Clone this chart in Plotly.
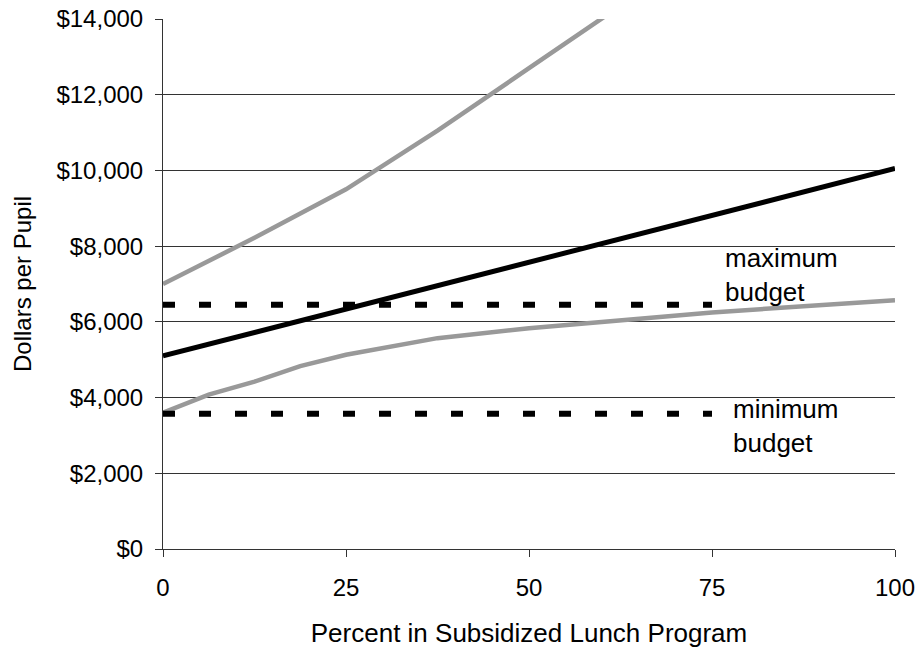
import plotly.graph_objects as go

# percent in subsidized lunch program (x) and dollars per pupil (y)
upper_x = [0, 12.5, 25, 37.5, 50, 62.5]
upper_y = [7000, 8220, 9500, 11050, 12700, 14350]

middle_x = [0, 25, 50, 75, 100]
middle_y = [5100, 6330, 7570, 8810, 10050]

lower_x = [0, 6.25, 12.5, 18.75, 25, 37.5, 50, 62.5, 75, 87.5, 100]
lower_y = [3600, 4080, 4420, 4830, 5130, 5570, 5830, 6040, 6250, 6410, 6570]

budget_x = [0, 75]
max_budget = [6450, 6450]
min_budget = [3570, 3570]

x_ticks = [0, 25, 50, 75, 100]
y_ticks = [0, 2000, 4000, 6000, 8000, 10000, 12000, 14000]
y_labels = ['$' + format(v, ',') for v in y_ticks]

FONT = 'Liberation Sans, Arial, sans-serif'
GRAY = '#999999'

fig = go.Figure()

fig.add_trace(go.Scatter(x=upper_x, y=upper_y, mode='lines',
                         line=dict(color=GRAY, width=4.5)))
fig.add_trace(go.Scatter(x=lower_x, y=lower_y, mode='lines',
                         line=dict(color=GRAY, width=4.5)))
fig.add_trace(go.Scatter(x=middle_x, y=middle_y, mode='lines',
                         line=dict(color='black', width=5)))
fig.add_trace(go.Scatter(x=budget_x, y=max_budget, mode='lines',
                         line=dict(color='black', width=6, dash='12px,24px')))
fig.add_trace(go.Scatter(x=budget_x, y=min_budget, mode='lines',
                         line=dict(color='black', width=6, dash='12px,24px')))

fig.add_annotation(x=76.5, y=7240, text='maximum<br>budget', showarrow=False,
                   xanchor='left', yanchor='middle', align='left',
                   font=dict(size=26, color='black', family=FONT))
fig.add_annotation(x=77.6, y=3240, text='minimum<br>budget', showarrow=False,
                   xanchor='left', yanchor='middle', align='left',
                   font=dict(size=26, color='black', family=FONT))

fig.update_xaxes(
    range=[0, 100], tickvals=x_ticks, ticks='outside', ticklen=7,
    tickcolor='#333', showline=True, linecolor='#333', linewidth=1,
    showgrid=False, zeroline=False, ticklabelstandoff=10,
    title=dict(text='Percent in Subsidized Lunch Program', standoff=25,
               font=dict(size=26, color='black', family=FONT)),
    tickfont=dict(size=24, color='black', family=FONT)
)
fig.update_yaxes(
    range=[0, 14000], tickvals=y_ticks, ticktext=y_labels,
    ticks='outside', ticklen=7, tickcolor='#333', showline=True,
    linecolor='#333', linewidth=1, showgrid=True, gridcolor='#333',
    gridwidth=1, zeroline=False, ticklabelstandoff=7,
    ticklabeloverflow='allow',
    title=dict(text='Dollars per Pupil', standoff=18,
               font=dict(size=24, color='black', family=FONT)),
    tickfont=dict(size=24, color='black', family=FONT)
)

fig.update_layout(
    width=922, height=648,
    margin=dict(l=163, r=27, t=19, b=99, autoexpand=False),
    plot_bgcolor='white', paper_bgcolor='white',
    showlegend=False
)

# drop the page's default body margin so the figure sits at the window corner
fig.write_html('out.html', config={'displayModeBar': False},
               post_script="document.body.style.margin='0';")
